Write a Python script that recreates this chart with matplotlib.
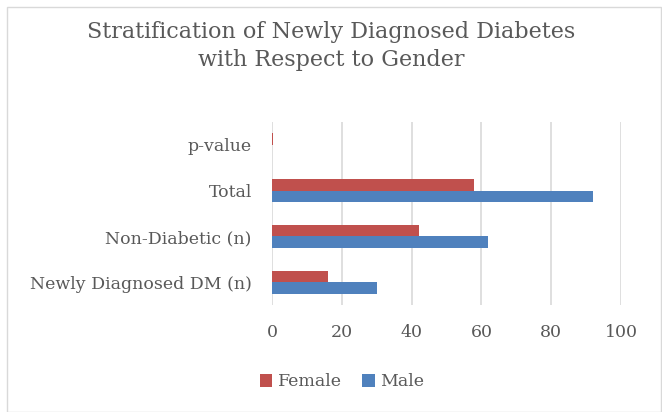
import matplotlib
matplotlib.use("Agg")
import matplotlib.pyplot as plt
from matplotlib.patches import Rectangle

categories = ["Newly Diagnosed DM (n)", "Non-Diabetic (n)", "Total", "p-value"]
female = [16, 42, 58, 0.4]
male = [30, 62, 92, 0]
xticks = [0, 20, 40, 60, 80, 100]

plt.rcParams['font.family'] = ['DejaVu Serif']
text_col = "#595959"

fig = plt.figure(figsize=(6.62, 4.12), dpi=100)
fig.patches.append(Rectangle((7/662, 0), 654/662, 405/412, transform=fig.transFigure,
                             fill=False, edgecolor="#D9D9D9", linewidth=1))
ax = fig.add_axes([272/662, 1-305/412, (621-272)/662, (305-122)/412])

ys = list(range(len(categories)))
h = 0.25
ax.barh([y + h/2 for y in ys], female, height=h, color="#C0504D", label="Female", zorder=3)
ax.barh([y - h/2 for y in ys], male, height=h, color="#4F81BD", label="Male", zorder=3)

ax.set_xlim(0, 100)
ax.set_ylim(-0.5, len(categories) - 0.5)
ax.set_xticks(xticks)
ax.set_yticks(ys)
ax.set_yticklabels(categories)
ax.tick_params(axis='both', length=0, labelsize=12.5, colors=text_col)
ax.tick_params(axis='x', pad=14)
ax.tick_params(axis='y', pad=14.5)
ax.grid(axis='x', color="#D9D9D9", linewidth=1.2, zorder=0)
for s in ax.spines.values():
    s.set_visible(False)

fig.text(0.5, 1-46/412, "Stratification of Newly Diagnosed Diabetes\nwith Respect to Gender",
         ha='center', va='center', fontsize=16, color=text_col, linespacing=1.3)

handles, labels = ax.get_legend_handles_labels()
fig.legend(handles, labels, loc='center', bbox_to_anchor=(342/662, 1-382/412), ncol=2,
           frameon=False, fontsize=12.5, labelcolor=text_col, handlelength=0.7, handleheight=0.7,
           handletextpad=0.3, columnspacing=1.2)

fig.savefig("out.png", dpi=100)
